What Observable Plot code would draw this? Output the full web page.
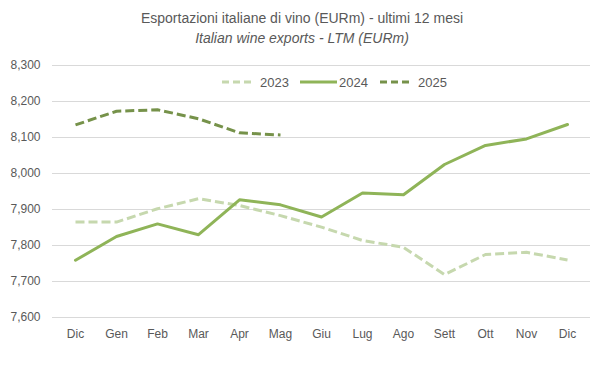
<!DOCTYPE html>
<html>
<head>
<meta charset="utf-8">
<script src="https://cdn.jsdelivr.net/npm/d3@7"></script>
<script src="https://cdn.jsdelivr.net/npm/@observablehq/plot@0.6"></script>
<style>
  html, body { margin: 0; padding: 0; background: #fff; }
  #wrap { position: relative; width: 604px; height: 383px; font-family: "Liberation Sans Narrow", "Arial Narrow", "Liberation Sans", sans-serif; color: #595959; }
  #title { position: absolute; left: 0; width: 604px; top: 9px; text-align: center; font-size: 14px; line-height: 18px; }
  #subtitle { position: absolute; left: 0; width: 604px; top: 29px; text-align: center; font-size: 14px; line-height: 18px; font-style: italic; }
  #chart { position: absolute; left: 0; top: 50px; }
  #legend { position: absolute; top: 74px; left: 0; width: 604px; height: 16px; }
</style>
</head>
<body>
<div id="wrap">
  <div id="title">Esportazioni italiane di vino (EURm) - ultimi 12 mesi</div>
  <div id="subtitle">Italian wine exports - LTM (EURm)</div>
  <div id="chart"></div>
  <svg id="legend" width="604" height="16"></svg>
</div>
<script>
const months = ["Dic","Gen","Feb","Mar","Apr","Mag","Giu","Lug","Ago","Sett","Ott","Nov","Dic"];
const yTicks = [7600, 7700, 7800, 7900, 8000, 8100, 8200, 8300];
const seriesNames = ["2023", "2024", "2025"];
const seriesColors = ["#c6d8ae", "#8fb458", "#76924a"];
const seriesDash = ["9,4", null, "9,4"];
const v2023 = [7865, 7865, 7902, 7930, 7911, 7883, 7851, 7814, 7795, 7719, 7775, 7781, 7760];
const v2024 = [7759, 7825, 7860, 7830, 7927, 7913, 7879, 7946, 7941, 8025, 8078, 8096, 8136];
const v2025 = [8135, 8173, 8177, 8152, 8113, 8107];

const seriesValues = [v2023, v2024, v2025];
const rows = seriesValues.map((vals, s) => vals.map((v, i) => ({i, series: seriesNames[s], value: v})));

const lineMarks = rows.map((data, s) => Plot.line(data, {
  x: "i", y: "value",
  stroke: seriesColors[s],
  strokeWidth: 3,
  strokeDasharray: seriesDash[s] || undefined,
  strokeLinecap: seriesDash[s] ? "butt" : "round",
  strokeLinejoin: "round"
}));

const fontFam = '"Liberation Sans Narrow", "Arial Narrow", "Liberation Sans", sans-serif';
const chart = Plot.plot({
  width: 604,
  height: 300,
  marginLeft: 52,
  marginRight: 14,
  marginTop: 15,
  marginBottom: 33,
  style: { fontFamily: fontFam, fontSize: "12px", color: "#595959", background: "transparent" },
  x: { type: "point", domain: months.map((_, i) => i), padding: 0.5, label: null },
  y: { domain: [7600, 8300], label: null },
  marks: [
    Plot.ruleY(yTicks, { stroke: "#d9d9d9", strokeWidth: 1 }),
    Plot.axisX({ tickSize: 0, tickPadding: 12, fontSize: 12, fill: "#595959", tickFormat: i => months[i], label: null }),
    Plot.axisY({ ticks: yTicks, tickSize: 0, tickPadding: 12, fontSize: 12, fill: "#595959", tickFormat: d3.format(","), label: null }),
    ...lineMarks
  ]
});
document.getElementById("chart").appendChild(chart);

// Legend
const leg = d3.select("#legend");
const legItems = [
  { x: 222, lw: 32, tx: 260 },
  { x: 300, lw: 37, tx: 339 },
  { x: 380, lw: 33, tx: 418 }
];
seriesNames.forEach((name, s) => {
  const it = legItems[s];
  leg.append("line")
    .attr("x1", it.x).attr("x2", it.x + it.lw).attr("y1", 8).attr("y2", 8)
    .attr("stroke", seriesColors[s]).attr("stroke-width", 3)
    .attr("stroke-dasharray", seriesDash[s] ? "7,4" : null);
  leg.append("text")
    .attr("x", it.tx).attr("y", 12.5)
    .attr("fill", "#595959").attr("font-size", 13)
    .style("font-family", fontFam)
    .text(name);
});
</script>
</body>
</html>
